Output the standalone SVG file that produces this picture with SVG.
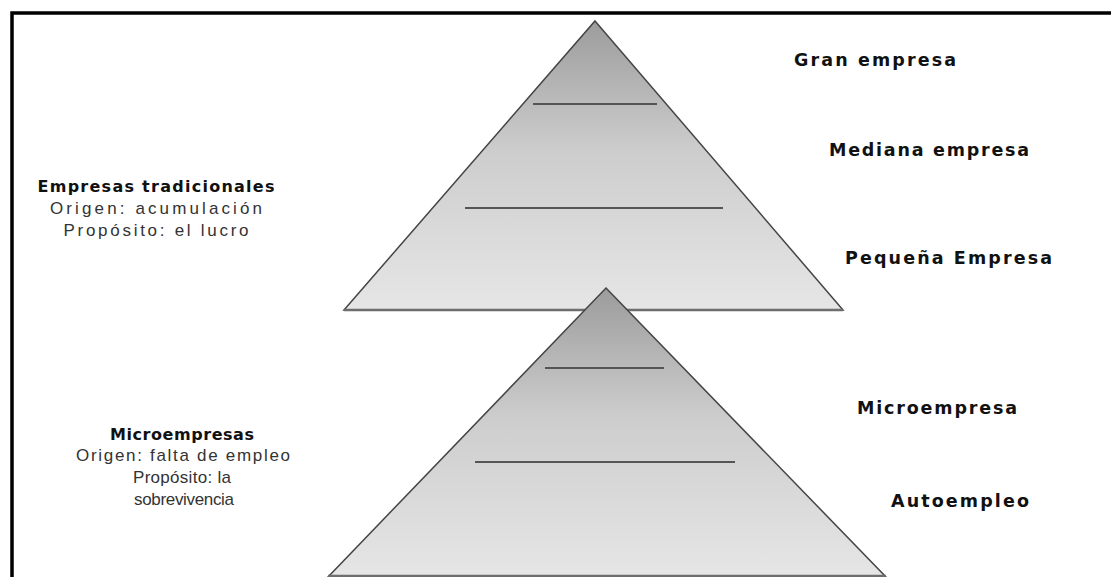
<svg xmlns="http://www.w3.org/2000/svg" width="1111" height="577" viewBox="0 0 1111 577">
  <defs>
    <linearGradient id="pyrFill" x1="0" y1="0" x2="0" y2="1">
      <stop offset="0" stop-color="#9c9c9c"/>
      <stop offset="0.45" stop-color="#cdcdcd"/>
      <stop offset="1" stop-color="#e6e6e6"/>
    </linearGradient>
    <style>
      .frame { fill: none; stroke: #000; stroke-width: 3.5; }
      .pyr { fill: url(#pyrFill); stroke: #444; stroke-width: 1.5; stroke-linejoin: miter; }
      .base { stroke: #6e6e6e; stroke-width: 2.5; }
      .tier { stroke: #555; stroke-width: 2; }
      .lvl { font-family: "DejaVu Sans", "Liberation Sans", sans-serif; font-size: 17.5px; font-weight: bold; fill: #111; }
      .head { font-family: "DejaVu Sans", "Liberation Sans", sans-serif; font-size: 16px; font-weight: bold; fill: #111; text-anchor: middle; }
      .desc { font-family: "Liberation Sans", Arial, sans-serif; font-size: 17px; fill: #333; text-anchor: middle; }
    </style>
  </defs>

  <rect width="1111" height="577" fill="#fff"/>
  <path class="frame" d="M12,577 V13 H1111"/>

  <!-- upper pyramid: traditional enterprises -->
  <g id="pyramid-traditional">
    <polygon class="pyr" points="595,21 843,310 344,310"/>
    <line class="base" x1="344" y1="310" x2="843" y2="310"/>
    <line class="tier" x1="533" y1="104" x2="657" y2="104"/>
    <line class="tier" x1="465" y1="208" x2="723" y2="208"/>
  </g>

  <!-- lower pyramid: micro enterprises -->
  <g id="pyramid-micro">
    <polygon class="pyr" points="606,288 886,577 328,577"/>
    <line class="base" x1="328" y1="576" x2="886" y2="576"/>
    <line class="tier" x1="545" y1="368" x2="664" y2="368"/>
    <line class="tier" x1="475" y1="462" x2="735" y2="462"/>
  </g>

  <!-- level labels -->
  <g id="label-gran"><text class="lvl" x="794" y="66" textLength="162" lengthAdjust="spacing">Gran empresa</text></g>
  <g id="label-mediana"><text class="lvl" x="829" y="156" textLength="200" lengthAdjust="spacing">Mediana empresa</text></g>
  <g id="label-pequena"><text class="lvl" x="845" y="264" textLength="207" lengthAdjust="spacing">Pequeña Empresa</text></g>
  <g id="label-micro"><text class="lvl" x="857" y="414" textLength="160" lengthAdjust="spacing">Microempresa</text></g>
  <g id="label-auto"><text class="lvl" x="891" y="507" textLength="138" lengthAdjust="spacing">Autoempleo</text></g>

  <!-- descriptions -->
  <g id="desc-traditional">
    <text class="head" x="156" y="192" textLength="237" lengthAdjust="spacing">Empresas tradicionales</text>
    <text class="desc" x="156" y="214" textLength="212" lengthAdjust="spacing">Origen: acumulación</text>
    <text class="desc" x="156" y="236" textLength="185" lengthAdjust="spacing">Propósito: el lucro</text>
  </g>
  <g id="desc-micro">
    <text class="head" x="182" y="440" textLength="144" lengthAdjust="spacing">Microempresas</text>
    <text class="desc" x="183" y="461" textLength="214" lengthAdjust="spacing">Origen: falta de empleo</text>
    <text class="desc" x="182" y="483" textLength="98" lengthAdjust="spacing">Propósito: la</text>
    <text class="desc" x="184" y="505" textLength="100" lengthAdjust="spacing">sobrevivencia</text>
  </g>
</svg>
